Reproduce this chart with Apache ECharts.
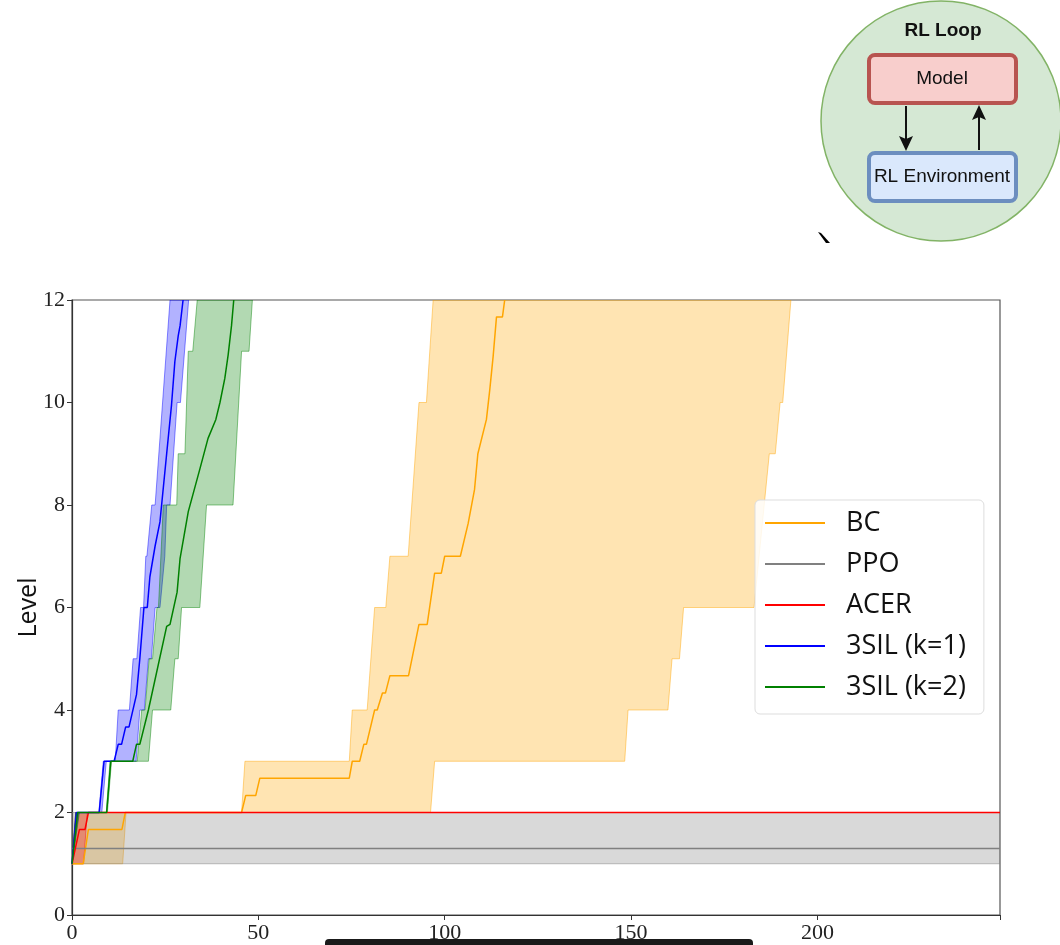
<!DOCTYPE html>
<html>
<head>
<meta charset="utf-8">
<script src="https://cdn.jsdelivr.net/npm/echarts@6/dist/echarts.min.js"></script>
<style>
html,body{margin:0;padding:0;background:#fff;}
#chart{width:1060px;height:945px;}
</style>
</head>
<body>
<div id="chart"></div>
<script>
// ---- data: [step, level] pairs ----
const seriesNames = ['BC', 'PPO', 'ACER', '3SIL (k=1)', '3SIL (k=2)'];
const xTicks = [0, 50, 100, 150, 200];
const yTicks = [0, 2, 4, 6, 8, 10, 12];

const bcMean = [[0,1],[3,1],[4.4,1.67],[13.4,1.67],[14.3,2],[45.5,2],[46.6,2.33],[49.3,2.33],[50.4,2.67],[74.4,2.67],[75.2,3],[77.2,3],[78.3,3.33],[79,3.33],[81.2,4],[81.9,4],[83.3,4.33],[84.1,4.33],[85.3,4.67],[90.3,4.67],[93.1,5.67],[95.3,5.67],[97.3,6.67],[99.1,6.67],[100,7],[104.2,7],[106.3,7.64],[108,8.3],[108.9,9],[111.2,9.67],[112.1,10.25],[113,10.9],[113.9,11.67],[115.5,11.67],[116.1,12]];
const bcHigh = [[0,1],[1.2,2],[45.5,2],[46.4,3],[74.4,3],[75.2,4],[79.2,4],[81.2,6],[84.2,6],[85.3,7],[90.2,7],[93.1,10],[95.1,10],[96.9,12]];
const bcLow = [[0,1],[13.6,1],[14.5,2],[96.2,2],[97.3,3],[148.3,3],[149.2,4],[159.9,4],[161,5],[163,5],[164.1,6],[183,6],[187.1,9],[188.7,9],[190,10],[190.7,10],[192.9,12]];

const ppoMean = [[0,1.3],[249,1.3]];
const ppoHigh = [[0,2],[249,2]];
const ppoLow = [[0,1],[249,1]];

const acerMean = [[0,1],[2,1.67],[3.5,1.67],[4.4,2],[249,2]];
const acerHigh = [[0,1],[1,2],[249,2]];
const acerLow = [[0,1],[3.1,1],[4.1,2],[249,2]];

const sil1Mean = [[0,1],[1.2,2],[7.3,2],[8.6,3],[11.3,3],[12.4,3.33],[13.3,3.33],[14.4,3.67],[15.3,3.67],[17.3,4.3],[18.2,5],[19.3,6],[20.2,6],[20.9,6.6],[22.3,7.2],[23.6,7.67],[25.4,9],[26.7,9.95],[27.6,10.8],[28.5,11.3],[29,11.5],[29.8,12]];
const sil1High = [[0,1],[1,2],[7.2,2],[8.4,3],[11.6,3],[12.4,4],[15.4,4],[16.4,5],[17.4,5],[18.4,6],[19.2,6],[19.8,7],[20.1,7],[21.4,8],[22.3,8],[26.3,12]];
const sil1Low = [[0,1],[1.8,2],[8,2],[9.2,3],[17.2,3],[18.2,4],[19.4,4],[20.5,5],[21.3,5],[22.3,6],[23.6,6],[24.9,7],[25.4,8],[26.3,8],[28.2,10],[29.1,10],[31.3,12]];

const sil2Mean = [[0,1],[1.5,2],[9.3,2],[10.4,3],[16.3,3],[17.3,3.33],[18.2,3.33],[20.5,4],[25.4,5.63],[26.3,5.67],[28.2,6.3],[29,6.96],[31.2,7.87],[34.3,8.7],[36.5,9.3],[38.6,9.67],[39.7,10],[41,10.47],[41.9,10.93],[42.8,11.5],[43.4,12]];
const sil2High = [[0,1],[1,2],[9.2,2],[10.2,3],[17.5,3],[18.7,4],[19.6,4],[20.7,5],[21.6,5],[22.8,6],[23.2,6],[24.5,8],[28.1,8],[28.5,9],[30.3,9],[31.2,11],[32.4,11],[33.6,12]];
const sil2Low = [[0,1],[2,2],[9.5,2],[10.6,3],[20.5,3],[21.6,4],[26.5,4],[27.6,5],[28.5,5],[29.4,6],[34.3,6],[36.1,8],[43.2,8],[45.5,11],[47.5,11],[48.4,12]];

// ---- styling ----
const lineColors = ['#FFA500', '#808080', '#FF0000', '#0000FF', '#008000'];
const bandFills = ['rgba(255,165,0,0.3)', 'rgba(128,128,128,0.3)', 'rgba(255,0,0,0.3)', 'rgba(0,0,255,0.3)', 'rgba(0,128,0,0.3)'];
const bandStrokes = ['rgba(255,165,0,0.45)', 'rgba(128,128,128,0.5)', 'rgba(255,0,0,0.45)', 'rgba(0,0,255,0.45)', 'rgba(0,128,0,0.45)'];

const means = [bcMean, ppoMean, acerMean, sil1Mean, sil2Mean];
const highs = [bcHigh, ppoHigh, acerHigh, sil1High, sil2High];
const lows = [bcLow, ppoLow, acerLow, sil1Low, sil2Low];

function bandSeries(i) {
  return {
    type: 'custom',
    name: seriesNames[i] + ' band',
    coordinateSystem: 'cartesian2d',
    clip: true,
    silent: true,
    data: [[0, 1]],
    renderItem: function (params, api) {
      const pts = highs[i].map(p => api.coord(p))
        .concat(lows[i].slice().reverse().map(p => api.coord(p)));
      return {
        type: 'polygon',
        shape: { points: pts },
        style: { fill: bandFills[i], stroke: bandStrokes[i], lineWidth: 1 }
      };
    },
    z: 2
  };
}

function meanSeries(i) {
  return {
    type: 'line',
    name: seriesNames[i],
    data: means[i],
    symbol: 'none',
    clip: true,
    lineStyle: { color: lineColors[i], width: 1.5 },
    itemStyle: { color: lineColors[i] },
    z: 3
  };
}

const series = [];
for (let i = 0; i < 5; i++) series.push(bandSeries(i));
for (let i = 0; i < 5; i++) series.push(meanSeries(i));

const chart = echarts.init(document.getElementById('chart'), null, { renderer: 'canvas' });
chart.setOption({
  animation: false,
  backgroundColor: '#fff',
  grid: { left: 72, right: 60, top: 300, bottom: 30, show: true, borderColor: '#555', borderWidth: 1.2, outerBoundsMode: 'none' },
  xAxis: {
    type: 'value', min: 0, max: 249, interval: 50,
    axisLine: { show: true, onZero: false, lineStyle: { color: '#333', width: 1.2 } },
    axisTick: { show: true, length: 5, inside: false, lineStyle: { color: '#333' } },
    splitLine: { show: false },
    axisLabel: {
      margin: 7, color: '#222', fontFamily: 'Liberation Serif', fontSize: 22,
      formatter: v => (xTicks.indexOf(v) >= 0 ? String(v) : '')
    }
  },
  yAxis: {
    type: 'value', min: 0, max: 12, interval: 2,
    name: 'Level', nameLocation: 'middle', nameGap: 31, nameMoveOverlap: false,
    nameTextStyle: { fontFamily: 'Open Sans', fontSize: 25, color: '#111' },
    axisLine: { show: true, onZero: false, lineStyle: { color: '#333', width: 1.2 } },
    axisTick: { show: true, length: 5, inside: false, lineStyle: { color: '#333' } },
    splitLine: { show: false },
    axisLabel: {
      margin: 7, color: '#222', fontFamily: 'Liberation Serif', fontSize: 22,
      formatter: v => (yTicks.indexOf(v) >= 0 ? String(v) : '')
    }
  },
  legend: {
    data: seriesNames,
    orient: 'vertical',
    left: 755, top: 500,
    icon: 'rect',
    itemWidth: 60, itemHeight: 2,
    itemGap: 11,
    padding: [8, 18, 12, 10],
    backgroundColor: 'rgba(255,255,255,0.85)',
    borderColor: '#ddd', borderWidth: 1, borderRadius: 5,
    textStyle: { fontFamily: 'Open Sans', fontSize: 27, color: '#111', lineHeight: 30, padding: [0, 0, 0, 16] }
  },
  series: series,
  graphic: [
    { type: 'circle', shape: { cx: 941, cy: 121, r: 120 }, style: { fill: '#d5e8d4', stroke: '#82b366', lineWidth: 1.5 }, z: 10 },
    { type: 'text', x: 943, y: 31, style: { text: 'RL Loop', fontFamily: 'Liberation Sans', fontWeight: 'bold', fontSize: 19, fill: '#111', align: 'center', verticalAlign: 'middle' }, z: 11 },
    { type: 'rect', shape: { x: 869, y: 55, width: 147, height: 48, r: 6 }, style: { fill: '#f8cecc', stroke: '#b85450', lineWidth: 4 }, z: 11 },
    { type: 'text', x: 942, y: 79, style: { text: 'Model', fontFamily: 'Liberation Sans', fontSize: 19, fill: '#111', align: 'center', verticalAlign: 'middle' }, z: 12 },
    { type: 'rect', shape: { x: 869, y: 153, width: 147, height: 48, r: 6 }, style: { fill: '#dae8fc', stroke: '#6c8ebf', lineWidth: 4 }, z: 11 },
    { type: 'text', x: 942, y: 177, style: { text: 'RL Environment', fontFamily: 'Liberation Sans', fontSize: 19, fill: '#111', align: 'center', verticalAlign: 'middle' }, z: 12 },
    { type: 'line', shape: { x1: 906, y1: 106, x2: 906, y2: 139 }, style: { stroke: '#111', lineWidth: 2 }, z: 12 },
    { type: 'polygon', shape: { points: [[899, 136], [906, 139], [913, 136], [906, 151]] }, style: { fill: '#111' }, z: 12 },
    { type: 'line', shape: { x1: 979, y1: 150, x2: 979, y2: 117 }, style: { stroke: '#111', lineWidth: 2 }, z: 12 },
    { type: 'polygon', shape: { points: [[972, 120], [979, 117], [986, 120], [979, 105]] }, style: { fill: '#111' }, z: 12 },
    { type: 'polygon', shape: { points: [[818, 232], [821, 233], [830, 243], [826, 243]] }, style: { fill: '#000' }, z: 12 },
    { type: 'rect', shape: { x: 325, y: 939, width: 428, height: 10, r: 4 }, style: { fill: '#1a1a1a' }, z: 12 }
  ]
});
</script>
</body>
</html>
